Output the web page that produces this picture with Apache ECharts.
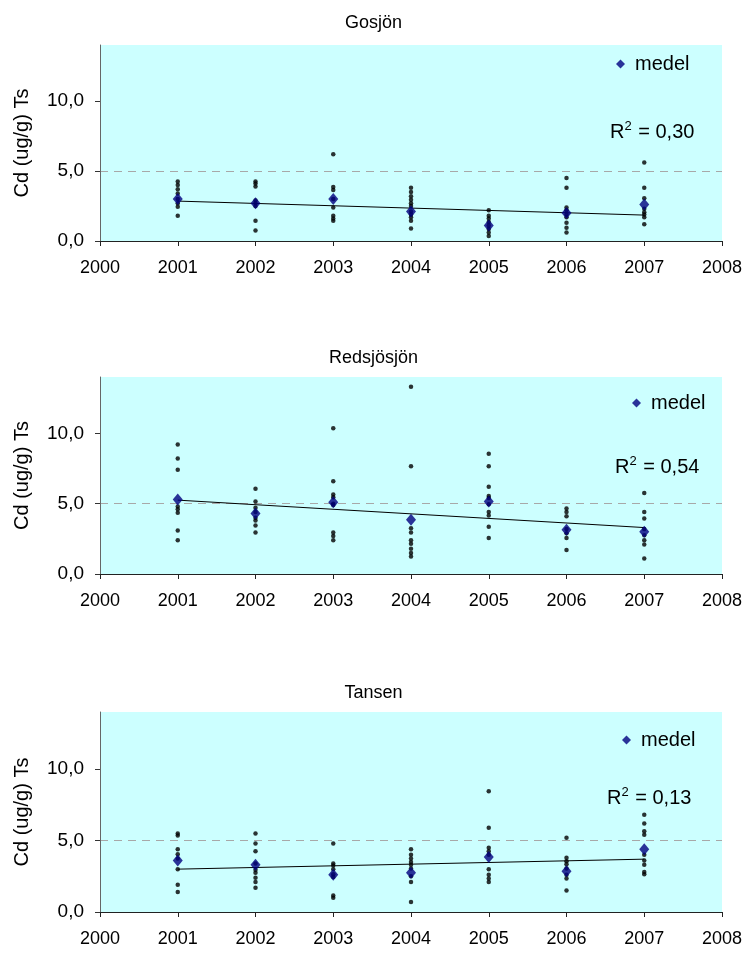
<!DOCTYPE html>
<html><head><meta charset="utf-8">
<script src="https://cdn.jsdelivr.net/npm/echarts@6/dist/echarts.min.js"></script>
<style>html,body{margin:0;padding:0;background:#fff}#c{width:747px;height:954px}</style>
</head><body><div id="c"></div>
<script>
const years = [2001, 2002, 2003, 2004, 2005, 2006, 2007];
const lakeNames = ['Gosjön', 'Redsjösjön', 'Tansen'];
const r2Values = ['0,30', '0,54', '0,13'];
const yTicks = [0, 5, 10];

// individual samples per year
const gosjonSamples = [
  [4.25, 4.0, 3.7, 3.4, 3.0, 2.7, 2.45, 1.8],
  [4.25, 4.1, 3.9, 2.9, 2.7, 2.5, 1.45, 0.75],
  [6.2, 3.85, 3.65, 3.0, 2.4, 1.8, 1.6, 1.45],
  [3.8, 3.5, 3.2, 2.95, 2.7, 2.5, 2.1, 1.9, 1.7, 1.45, 0.9],
  [2.2, 1.8, 1.6, 1.35, 1.1, 0.85, 0.6, 0.35],
  [4.5, 3.8, 2.4, 2.2, 1.9, 1.7, 1.3, 0.95, 0.6],
  [5.6, 3.8, 3.05, 2.3, 2.05, 1.9, 1.7, 1.2]
];
const redsjosjonSamples = [
  [9.2, 8.2, 7.4, 4.8, 4.6, 4.35, 3.1, 2.4],
  [6.05, 5.15, 4.7, 4.4, 4.0, 3.8, 3.45, 2.95],
  [10.35, 6.6, 5.65, 5.45, 5.0, 4.9, 2.95, 2.7, 2.4],
  [13.3, 7.65, 3.25, 2.95, 2.4, 2.15, 1.8, 1.5, 1.25],
  [8.55, 7.65, 6.2, 5.55, 5.4, 4.95, 4.4, 4.15, 3.35, 2.55],
  [4.65, 4.4, 4.1, 3.2, 2.9, 2.55, 1.7],
  [5.75, 4.4, 3.95, 3.2, 2.75, 2.4, 2.1, 1.1]
];
const tansenSamples = [
  [5.5, 5.35, 4.4, 4.05, 3.75, 3.0, 1.9, 1.4],
  [5.5, 4.8, 4.25, 3.4, 2.95, 2.75, 2.4, 2.1, 1.7],
  [4.8, 3.4, 3.25, 3.0, 2.65, 2.45, 1.15, 1.0],
  [4.4, 4.0, 3.75, 3.5, 3.3, 3.05, 2.5, 2.1, 0.7],
  [8.45, 5.9, 4.5, 4.25, 4.0, 3.0, 2.6, 2.35, 2.1],
  [5.2, 3.8, 3.55, 3.35, 3.05, 2.6, 2.35, 1.5],
  [6.8, 6.2, 5.65, 5.4, 4.0, 3.6, 3.3, 2.8, 2.65]
];
// yearly means (medel)
const gosjonMedel = [3.0, 2.7, 3.0, 2.1, 1.1, 2.0, 2.6];
const redsjosjonMedel = [5.3, 4.3, 5.1, 3.85, 5.15, 3.15, 3.0];
const tansenMedel = [3.6, 3.3, 2.6, 2.75, 3.85, 2.85, 4.4];
// trend line values at first and last year
const gosjonTrend = [2.85, 1.85];
const redsjosjonTrend = [5.25, 3.3];
const tansenTrend = [3.0, 3.7];

const samplesAll = [gosjonSamples, redsjosjonSamples, tansenSamples];
const medelAll = [gosjonMedel, redsjosjonMedel, tansenMedel];
const trendAll = [gosjonTrend, redsjosjonTrend, tansenTrend];

const gridTops = [45, 377, 712];
const gridHeights = [196, 197, 200];
const FONT = 'Liberation Sans, Arial, sans-serif';

const grids = [], xAxes = [], yAxes = [], series = [], titles = [], legends = [];
const legendPos = [[611, 49], [627, 388], [617, 725]];
const r2Pos = [[605, 115], [610, 450], [602, 781]];
const titleY = [9, 344, 679];

for (let i = 0; i < 3; i++) {
  grids.push({left: 100, top: gridTops[i], width: 622, height: gridHeights[i],
    show: true, backgroundColor: '#CCFFFF', borderWidth: 0});
  xAxes.push({type: 'value', gridIndex: i, min: 2000, max: 2008, interval: 1,
    axisLine: {show: true, onZero: false, lineStyle: {color: '#222', width: 1}},
    axisTick: {show: true, inside: false, length: 5, lineStyle: {color: '#222'}},
    axisLabel: {color: '#000', fontSize: 18, fontFamily: FONT, margin: 18, formatter: v => String(v)},
    splitLine: {show: false}});
  yAxes.push({type: 'value', gridIndex: i, min: 0, max: 14, interval: 5,
    name: 'Cd (ug/g) Ts', nameLocation: 'middle', nameGap: 68, nameRotate: 90,
    nameTextStyle: {color: '#000', fontSize: 20, fontFamily: FONT},
    axisLine: {show: true, lineStyle: {color: '#666', width: 1}},
    axisTick: {show: true, inside: false, length: 5, lineStyle: {color: '#333'},
      customValues: yTicks},
    axisLabel: {color: '#000', fontSize: 19, fontFamily: FONT, margin: 16,
      customValues: yTicks,
      formatter: v => (yTicks.indexOf(v) < 0 ? '' : v.toFixed(1).replace('.', ','))},
    splitLine: {show: true, showMinLine: false, showMaxLine: false,
      lineStyle: {color: '#A8A8A8', type: [8, 6], width: 1}}});

  const pts = [];
  samplesAll[i].forEach((arr, k) => arr.forEach(v => pts.push([years[k], v])));
  series.push({type: 'scatter', name: 'prov', xAxisIndex: i, yAxisIndex: i, data: pts,
    symbol: 'circle', symbolSize: 4.5, itemStyle: {color: '#000'}, z: 2, silent: true});
  const t = trendAll[i];
  series.push({type: 'line', name: 'trend', xAxisIndex: i, yAxisIndex: i,
    data: [[years[0], t[0]], [years[years.length - 1], t[1]]],
    symbol: 'none', lineStyle: {color: '#000', width: 1}, z: 3, silent: true});
  series.push({type: 'scatter', name: 'medel', xAxisIndex: i, yAxisIndex: i,
    data: medelAll[i].map((v, k) => [years[k], v]),
    symbol: 'diamond', symbolSize: [10, 12], itemStyle: {color: '#000080'}, z: 4});

  titles.push({text: lakeNames[i], left: 'center', top: titleY[i],
    textStyle: {fontSize: 18, fontWeight: 'normal', color: '#000', fontFamily: FONT}});
  titles.push({text: '{a|R}{s|2}{a| = ' + r2Values[i] + '}', left: r2Pos[i][0], top: r2Pos[i][1],
    textStyle: {fontSize: 20, fontWeight: 'normal', color: '#000', fontFamily: FONT,
      rich: {
        a: {fontSize: 20, fontFamily: FONT, color: '#000', verticalAlign: 'bottom', lineHeight: 22},
        s: {fontSize: 13, fontFamily: FONT, color: '#000', verticalAlign: 'top', lineHeight: 22, padding: [0, 1, 0, 0]}
      }}});
  legends.push({data: ['medel'], left: legendPos[i][0], top: legendPos[i][1],
    icon: 'diamond', itemWidth: 9, itemHeight: 9, itemGap: 5,
    textStyle: {fontSize: 20, color: '#000', fontFamily: FONT, padding: [0, 0, 0, 5]},
    selectedMode: false});
}

const chart = echarts.init(document.getElementById('c'), null, {renderer: 'canvas'});
chart.setOption({
  animation: false,
  backgroundColor: '#fff',
  title: titles,
  legend: legends,
  grid: grids,
  xAxis: xAxes,
  yAxis: yAxes,
  series: series
});
</script>
</body></html>
